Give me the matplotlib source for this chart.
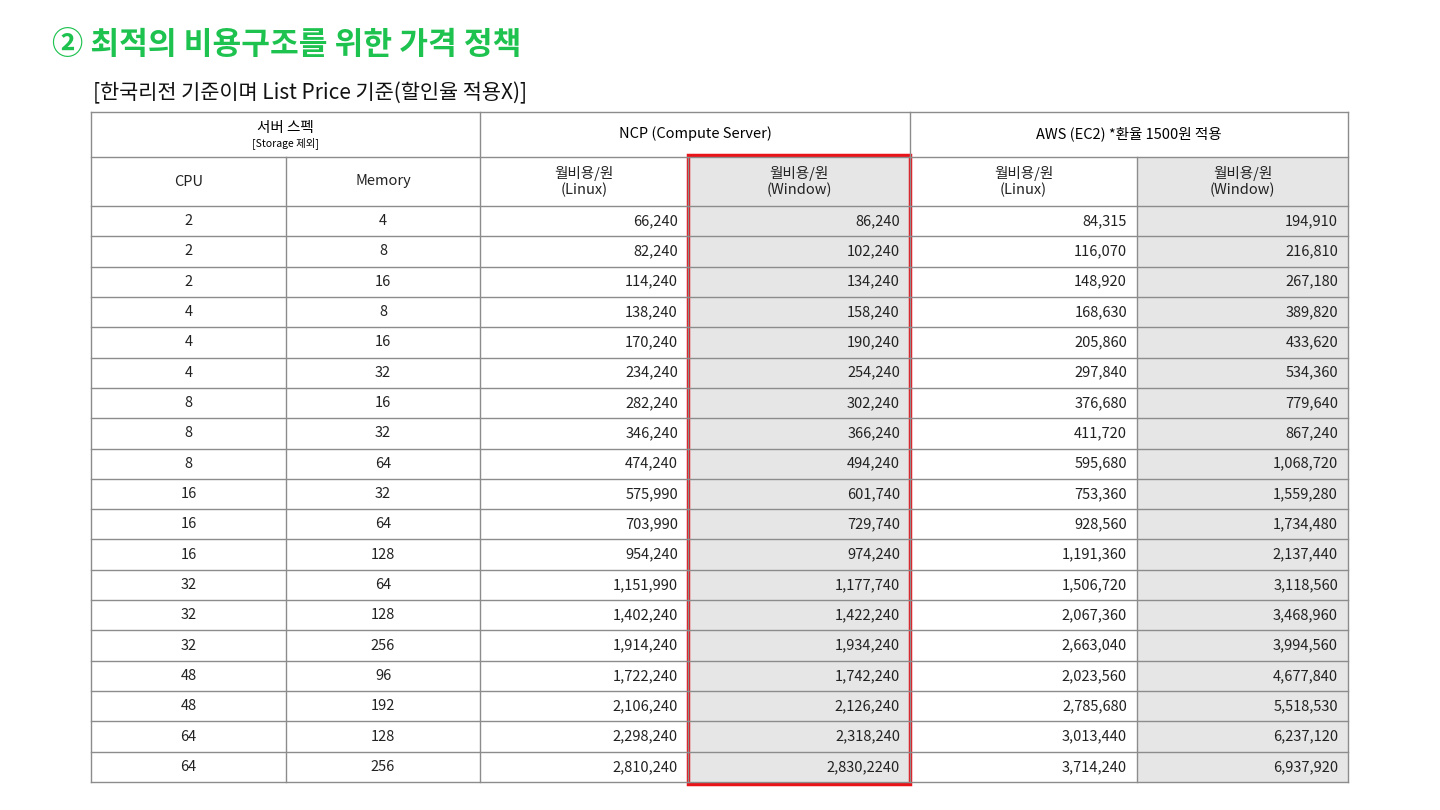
import matplotlib.pyplot as plt
from matplotlib.patches import Rectangle

plt.rcParams['font.family'] = ['Noto Sans CJK KR', 'DejaVu Sans']

title = '② 최적의 비용구조를 위한 가격 정책'
subtitle = '[한국리전 기준이며 List Price 기준(할인율 적용X)]'

cpu = [2, 2, 2, 4, 4, 4, 8, 8, 8, 16, 16, 16, 32, 32, 32, 48, 48, 64, 64]
memory = [4, 8, 16, 8, 16, 32, 16, 32, 64, 32, 64, 128, 64, 128, 256, 96, 192, 128, 256]
ncp_linux = ['66,240', '82,240', '114,240', '138,240', '170,240', '234,240', '282,240',
             '346,240', '474,240', '575,990', '703,990', '954,240', '1,151,990', '1,402,240',
             '1,914,240', '1,722,240', '2,106,240', '2,298,240', '2,810,240']
ncp_window = ['86,240', '102,240', '134,240', '158,240', '190,240', '254,240', '302,240',
              '366,240', '494,240', '601,740', '729,740', '974,240', '1,177,740', '1,422,240',
              '1,934,240', '1,742,240', '2,126,240', '2,318,240', '2,830,2240']
aws_linux = ['84,315', '116,070', '148,920', '168,630', '205,860', '297,840', '376,680',
             '411,720', '595,680', '753,360', '928,560', '1,191,360', '1,506,720', '2,067,360',
             '2,663,040', '2,023,560', '2,785,680', '3,013,440', '3,714,240']
aws_window = ['194,910', '216,810', '267,180', '389,820', '433,620', '534,360', '779,640',
              '867,240', '1,068,720', '1,559,280', '1,734,480', '2,137,440', '3,118,560',
              '3,468,960', '3,994,560', '4,677,840', '5,518,530', '6,237,120', '6,937,920']

col_x = [91, 286, 480, 688, 910, 1137, 1348]
top, h1, h2 = 112, 157, 206
row_h = (782 - h2) / len(cpu)

fig = plt.figure(figsize=(14.4, 8.1), dpi=100)
ax = fig.add_axes([0, 0, 1, 1])
ax.set_xlim(0, 1440)
ax.set_ylim(810, 0)
ax.axis('off')

ax.text(52, 45, title, fontsize=22.5, fontweight='bold', color='#1dc24f', va='center')
ax.text(93, 93, subtitle, fontsize=15, color='#111111', va='center')

bottom = h2 + row_h * len(cpu)
gray = '#e6e6e6'
for c in (3, 5):
    ax.add_patch(Rectangle((col_x[c], h1), col_x[c + 1] - col_x[c], bottom - h1,
                           facecolor=gray, edgecolor='none'))

lc = '#8c8c8c'
# horizontal lines
ax.plot([col_x[0], col_x[-1]], [top, top], color=lc, lw=1)
ax.plot([col_x[0], col_x[-1]], [bottom, bottom], color=lc, lw=1)
ax.plot([col_x[0], col_x[-1]], [h1, h1], color=lc, lw=1)
for i in range(len(cpu)):
    y = h2 + row_h * i
    ax.plot([col_x[0], col_x[-1]], [y, y], color=lc, lw=1)
# vertical lines
for j, x in enumerate(col_x):
    y0 = top if j in (0, 2, 4, 6) else h1
    ax.plot([x, x], [y0, bottom], color=lc, lw=1)

fs = 10.5
ax.text((col_x[0] + col_x[2]) / 2, 128, '서버 스펙', ha='center', va='center', fontsize=fs)
ax.text((col_x[0] + col_x[2]) / 2, 143, '[Storage 제외]', ha='center', va='center', fontsize=7.5)
ax.text((col_x[2] + col_x[4]) / 2, 134, 'NCP (Compute Server)', ha='center', va='center', fontsize=fs)
ax.text((col_x[4] + col_x[6]) / 2, 134, 'AWS (EC2) *환율 1500원 적용', ha='center', va='center', fontsize=fs)

sub = ['CPU', 'Memory', '월비용/원\n(Linux)', '월비용/원\n(Window)', '월비용/원\n(Linux)', '월비용/원\n(Window)']
for j, s in enumerate(sub):
    ax.text((col_x[j] + col_x[j + 1]) / 2, (h1 + h2) / 2, s, ha='center', va='center',
            fontsize=fs, color='#222222', linespacing=1.2)

cols = [cpu, memory, ncp_linux, ncp_window, aws_linux, aws_window]
for i in range(len(cpu)):
    yc = h2 + row_h * (i + 0.5)
    for j, col in enumerate(cols):
        if j < 2:
            ax.text((col_x[j] + col_x[j + 1]) / 2, yc, str(col[i]), ha='center', va='center',
                    fontsize=fs, color='#222222')
        else:
            ax.text(col_x[j + 1] - 10, yc, col[i], ha='right', va='center',
                    fontsize=fs, color='#222222')

ax.add_patch(Rectangle((col_x[3], h1 - 2), col_x[4] - col_x[3], bottom - h1 + 4,
                       facecolor='none', edgecolor='#e8141a', lw=2.5))

fig.savefig('out.png', dpi=100)
